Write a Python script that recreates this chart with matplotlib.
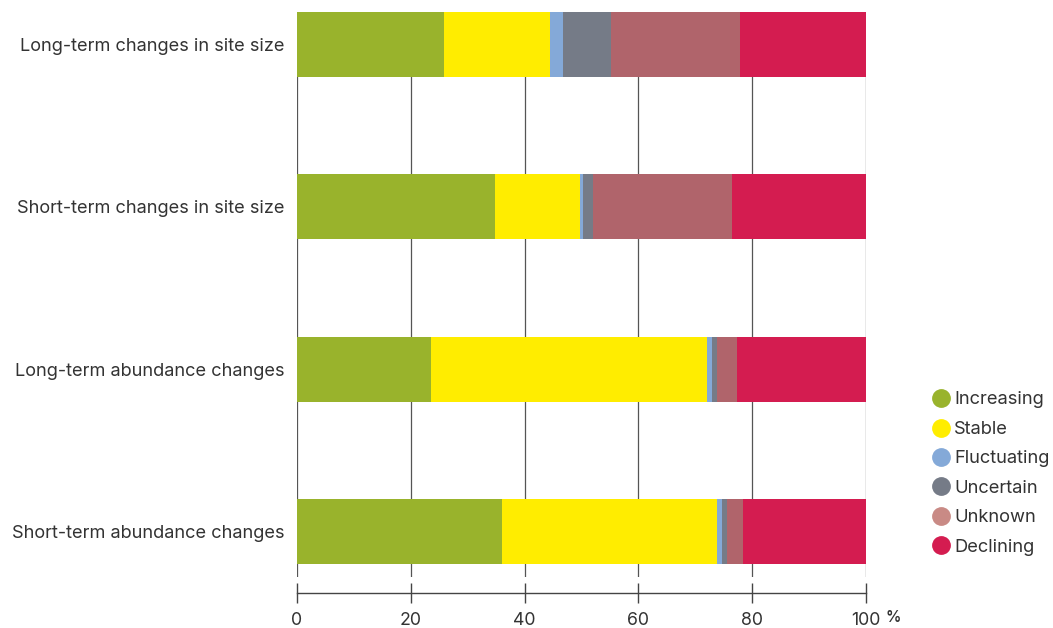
import matplotlib.pyplot as plt
from matplotlib.lines import Line2D
import numpy as np

plt.rcParams['font.family'] = ['Inter', 'DejaVu Sans']

categories = [
    "Long-term changes in site size",
    "Short-term changes in site size",
    "Long-term abundance changes",
    "Short-term abundance changes",
]
statuses = ["Increasing", "Stable", "Fluctuating", "Uncertain", "Unknown", "Declining"]

increasing = [25.8, 34.8, 23.5, 36.1]
stable = [18.6, 14.9, 48.5, 37.7]
fluctuating = [2.3, 0.6, 1.0, 0.9]
uncertain = [8.4, 1.8, 0.8, 0.8]
unknown = [22.7, 24.4, 3.5, 2.8]
declining = [22.2, 23.5, 22.7, 21.7]

bar_colors = ["#99b32c", "#ffed00", "#84a9d8", "#757b87", "#b0646b", "#d41c50"]
legend_colors = ["#99b32c", "#ffed00", "#84a9d8", "#757b87", "#c98a85", "#d41c50"]

x_ticks = [0, 20, 40, 60, 80, 100]

fig = plt.figure(figsize=(10.53, 6.28), dpi=100)
ax = fig.add_axes([297 / 1053, 1 - 577 / 628, 569 / 1053, 565 / 628])

series = [increasing, stable, fluctuating, uncertain, unknown, declining]
y = np.arange(len(categories))
left = np.zeros(len(categories))
for vals, col in zip(series, bar_colors):
    ax.barh(y, vals, left=left, height=0.4, color=col, zorder=3, linewidth=0)
    left += np.array(vals)

ax.set_xlim(0, 100)
ax.set_ylim(3.277, -0.2)
ax.set_yticks(y)
ax.set_yticklabels(categories)
ax.tick_params(axis="y", length=0, pad=9, labelsize=13.1, labelcolor="#333333")

ax.set_xticks(x_ticks)
ax.set_xticklabels([str(t) for t in x_ticks])
ax.tick_params(axis="x", direction="inout", length=14, width=1, color="#444444",
               pad=7, labelsize=12.8, labelcolor="#333333")
ax.grid(axis="x", color="#555555", linewidth=0.9, zorder=0)
for gl in ax.get_xgridlines():
    gl.set_clip_on(False)

for s in ["top", "right", "left"]:
    ax.spines[s].set_visible(False)
ax.spines["bottom"].set_position(("outward", 11.5))
ax.spines["bottom"].set_color("#444444")
ax.spines["bottom"].set_linewidth(1)

ax.annotate("%", xy=(100, 0), xycoords=("data", "axes fraction"),
            xytext=(14, -29), textcoords="offset points", fontsize=11,
            fontweight="semibold", color="#333333", va="center", ha="left")

handles = [Line2D([], [], marker="o", linestyle="none", markersize=12.5,
                  markerfacecolor=c, markeredgecolor=c) for c in legend_colors]
fig.legend(handles, statuses, loc="upper left", bbox_to_anchor=(924 / 1053, 1 - 386 / 628),
           frameon=False, fontsize=13.2, handletextpad=0.15, labelspacing=0.68,
           handlelength=1.2, labelcolor="#333333", borderaxespad=0, borderpad=0.3)

fig.savefig("out.png", dpi=100)
